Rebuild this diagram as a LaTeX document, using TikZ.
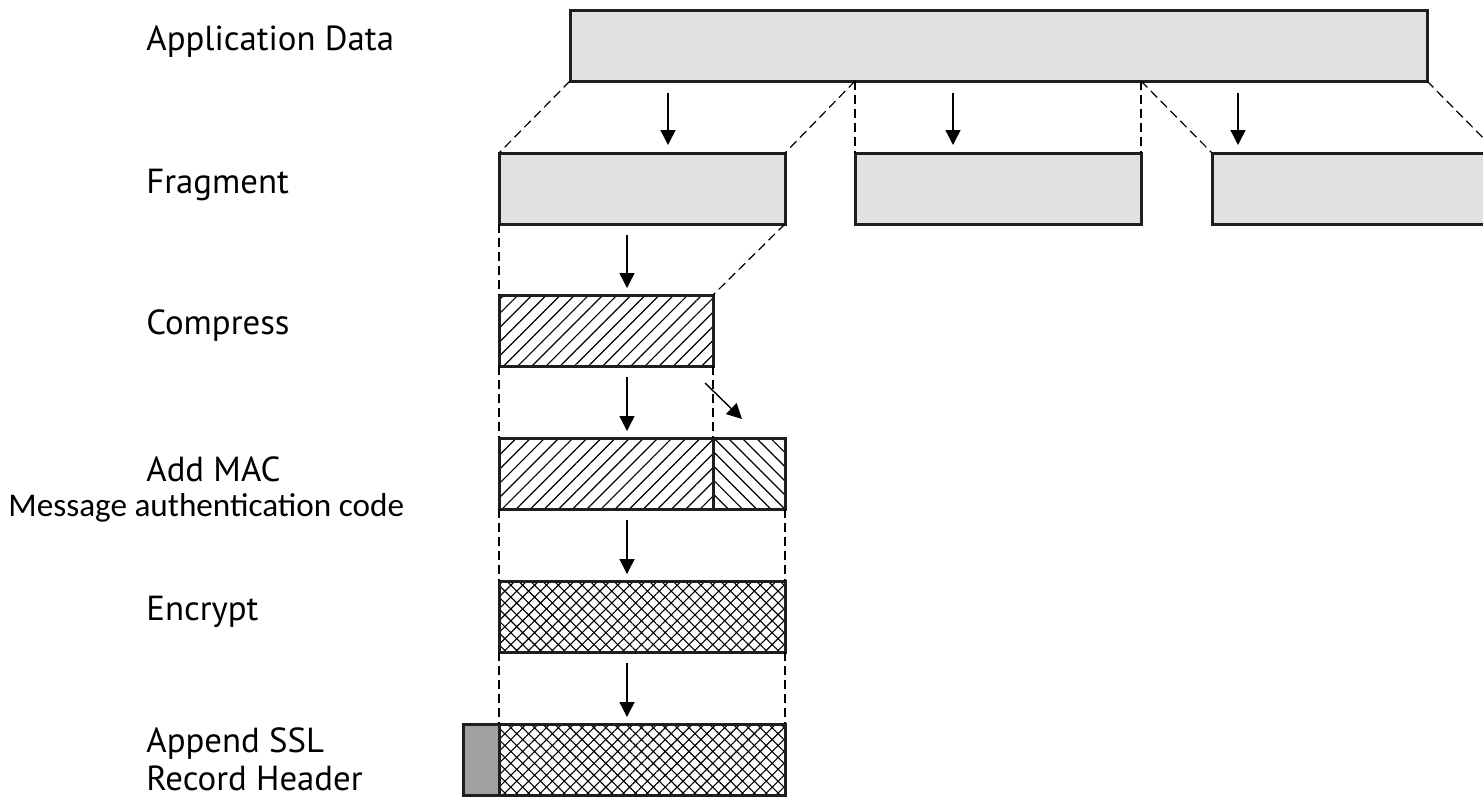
\documentclass[tikz,border=0pt]{standalone}
\usepackage{fontspec}
\setmainfont{PT Sans}
\newfontfamily\calibri{Carlito}
\usetikzlibrary{arrows.meta, patterns.meta}

\definecolor{fraggray}{HTML}{E1E1E1}
\definecolor{headgray}{HTML}{A0A0A0}
\definecolor{edgegray}{HTML}{1E1E1E}

\begin{document}
\begin{tikzpicture}[x=0.5pt, y=-0.5pt,
			block/.style={draw=edgegray, line width=1.5pt, inner sep=0pt, outer sep=0pt,
				anchor=north west, minimum height=35.5pt},
			plain/.style={block, fill=fraggray},
			single/.style={block, pattern={Lines[angle=45, distance=5pt, line width=0.6pt]}},
			back/.style={block, pattern={Lines[angle=-45, distance=5pt, line width=0.6pt]}},
			cross/.style={block, pattern={Hatch[angle=45, distance=4.2pt, line width=0.55pt]}},
			head/.style={block, fill=headgray},
			guide/.style={dash pattern=on 4.5pt off 2.5pt, line width=0.6pt},
			flow/.style={-{Triangle[length=7.5pt, width=7.5pt]}, line width=0.7pt},
			stage/.style={anchor=west, font=\fontsize{17.4}{19}\selectfont, align=left, inner sep=0pt}]
			
			\useasboundingbox (0,0) rectangle (1483,799);
			
			% row labels
			\node (lApp) [stage] at (146,42) {Application Data};
			\node (lFrag) [stage] at (146,185) {Fragment};
			\node (lCmp) [stage] at (146,326) {Compress};
			\node (lMac) [stage] at (146,469) {Add MAC};
			\node (lMacLong) [anchor=west, inner sep=0pt, font=\calibri\fontsize{16.6}{18}\selectfont]
				at (8,508) {Message authentication code};
			\node (lEnc) [stage] at (146,612) {Encrypt};
			\node (lRec) [stage] at (146,759) {Append SSL\\Record Header};
			
			% blocks
			\node (app) [plain, minimum width=428.5pt] at (570,10) {};
			\node (frag1) [plain, minimum width=143pt] at (499,153) {};
			\node (frag2) [plain, minimum width=143pt] at (855,153) {};
			\node (frag3) [plain, minimum width=143pt] at (1212,153) {};
			\node (cmp) [single, minimum width=107pt] at (499,295) {};
			\node (mac) [single, minimum width=107pt] at (499,438) {};
			\node (tag) [back, minimum width=36pt] at (713,438) {};
			\node (enc) [cross, minimum width=143pt] at (499,581) {};
			\node (hdr) [head, minimum width=18pt] at (463,724) {};
			\node (rec) [cross, minimum width=143pt] at (499,724) {};
			
			% dashed guides
			\draw[guide] (app.south west) -- (frag1.north west);
			\draw[guide] (frag2.north west |- app.south) -- (frag1.north east);
			\draw[guide] (frag2.north west |- app.south) -- (frag2.north west);
			\draw[guide] (frag2.north east |- app.south) -- (frag2.north east);
			\draw[guide] (frag2.north east |- app.south) -- (frag3.north west);
			\draw[guide] (app.south east) -- (frag3.north east);
			\draw[guide] (frag1.south west) -- (cmp.north west);
			\draw[guide] (frag1.south east) -- (cmp.north east);
			\draw[guide] (cmp.south west) -- (mac.north west);
			\draw[guide] (cmp.south east) -- (mac.north east);
			\draw[guide] (mac.south west) -- (enc.north west);
			\draw[guide] (tag.south east) -- (enc.north east);
			\draw[guide] (enc.south west) -- (rec.north west);
			\draw[guide] (enc.south east) -- (rec.north east);
			
			% arrows
			\foreach \i/\x in {1/668, 2/953, 3/1238}
				\draw[flow, shorten <=6pt, shorten >=4pt] (app.south -| \x,0) -- (frag\i.north -| \x,0);
			\coordinate (mid) at (627,0);
			\draw[flow, shorten <=5.5pt, shorten >=3.5pt] (frag1.south -| mid) -- (cmp.north -| mid);
			\draw[flow, shorten <=5.5pt, shorten >=3.5pt] (cmp.south -| mid) -- (mac.north -| mid);
			\draw[flow, shorten <=5.5pt, shorten >=3.5pt] (mac.south -| mid) -- (enc.north -| mid);
			\draw[flow, shorten <=5.5pt, shorten >=3.5pt] (enc.south -| mid) -- (rec.north -| mid);
			\coordinate (tagFrom) at (705,383);
			\coordinate (tagTo) at (742,419);
			\draw[flow] (tagFrom) -- (tagTo);
		\end{tikzpicture}
\end{document}
